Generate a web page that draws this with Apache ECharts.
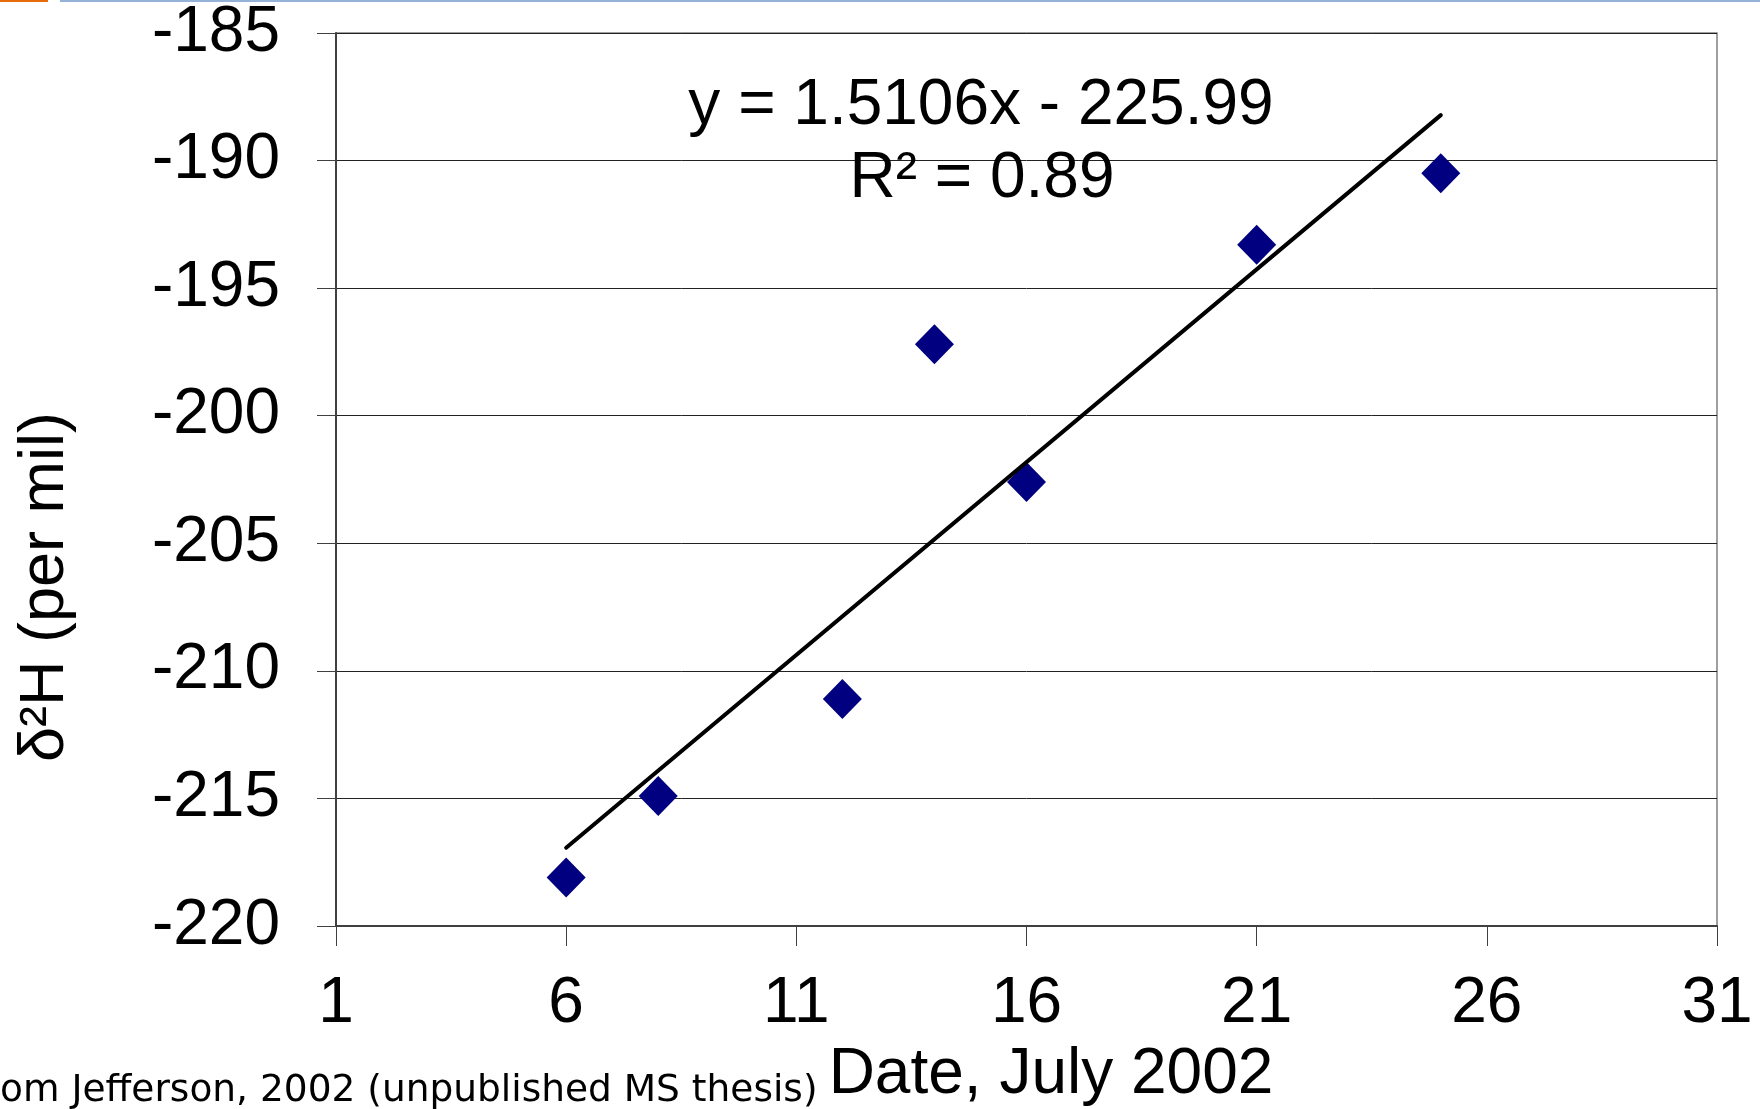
<!DOCTYPE html>
<html>
<head>
<meta charset="utf-8">
<script src="https://cdn.jsdelivr.net/npm/echarts@6/dist/echarts.min.js"></script>
<style>
html,body{margin:0;padding:0;background:#fff;}
#chart{width:1760px;height:1109px;}
</style>
</head>
<body>
<div id="chart"></div>
<script>
// Data
const dates = [6, 8, 12, 14, 16, 21, 25];
const d2H = [-218.1, -214.9, -211.1, -197.2, -202.6, -193.3, -190.5];
// Trend line endpoints (x = 6 and x = 25, per y = 1.5106x - 225.99)
const trendX = [6, 25];
const trendY = [-216.93, -188.22];
const xTicks = [1, 6, 11, 16, 21, 26, 31];
const yTicks = [-220, -215, -210, -205, -200, -195, -190, -185];
const equationText = 'y = 1.5106x - 225.99';
const r2Text = 'R² = 0.89';
const xTitle = 'Date, July 2002';
const yTitle = 'δ²H (per mil)';
const caption = 'om Jefferson, 2002 (unpublished MS thesis)';

const FONT = '"Liberation Sans", Arial, sans-serif';
const chart = echarts.init(document.getElementById('chart'), null, {renderer: 'canvas'});

const option = {
  animation: false,
  backgroundColor: '#ffffff',
  grid: {
    left: 336, top: 33, right: 43, bottom: 183,
    show: true, borderColor: '#808080', borderWidth: 1.5, backgroundColor: 'transparent'
  },
  xAxis: {
    type: 'value',
    min: xTicks[0], max: xTicks[xTicks.length - 1], interval: 5,
    axisLine: {show: true, onZero: false, lineStyle: {color: '#404040', width: 2}},
    axisTick: {show: true, inside: false, length: 20, lineStyle: {color: '#404040', width: 1}},
    axisLabel: {fontSize: 64, color: '#000', fontFamily: FONT, margin: 46},
    splitLine: {show: false}
  },
  yAxis: {
    type: 'value',
    min: yTicks[0], max: yTicks[yTicks.length - 1], interval: 5,
    axisLine: {show: true, onZero: false, lineStyle: {color: '#404040', width: 2}},
    axisTick: {show: true, inside: false, length: 19, lineStyle: {color: '#404040', width: 1}},
    axisLabel: {fontSize: 64, color: '#000', fontFamily: FONT, margin: 56},
    splitLine: {show: true, lineStyle: {color: '#222', width: 1}}
  },
  series: [
    {
      type: 'scatter',
      data: dates.map((d, i) => [d, d2H[i]]),
      symbol: 'diamond',
      symbolSize: [39, 40],
      itemStyle: {color: '#000080', opacity: 1},
      z: 2
    },
    {
      type: 'line',
      data: trendX.map((d, i) => [d, trendY[i]]),
      showSymbol: false,
      symbol: 'none',
      lineStyle: {color: '#000', width: 4, cap: 'round'},
      z: 3
    }
  ],
  graphic: [
    {type: 'rect', shape: {x: 0, y: 0, width: 48, height: 2}, style: {fill: '#E46C0A'}},
    {type: 'rect', shape: {x: 60, y: 0, width: 1700, height: 2}, style: {fill: '#95B3D7'}},
    {type: 'text', x: 981, y: 106, style: {text: equationText, font: '64px ' + FONT, fill: '#000', align: 'center', verticalAlign: 'middle'}, z: 10},
    {type: 'text', x: 982, y: 179, style: {text: r2Text, font: '64px ' + FONT, fill: '#000', align: 'center', verticalAlign: 'middle'}, z: 10},
    {type: 'text', x: 1051, y: 1075, style: {text: xTitle, font: '64px ' + FONT, fill: '#000', align: 'center', verticalAlign: 'middle'}},
    {type: 'text', x: 46, y: 587, rotation: Math.PI / 2, style: {text: yTitle, font: '63px ' + FONT, fill: '#000', align: 'center', verticalAlign: 'middle'}},
    {type: 'text', x: 0, y: 1091, style: {text: caption, font: '37.5px "DejaVu Sans", sans-serif', fill: '#000', align: 'left', verticalAlign: 'middle'}}
  ]
};
chart.setOption(option);
</script>
</body>
</html>
